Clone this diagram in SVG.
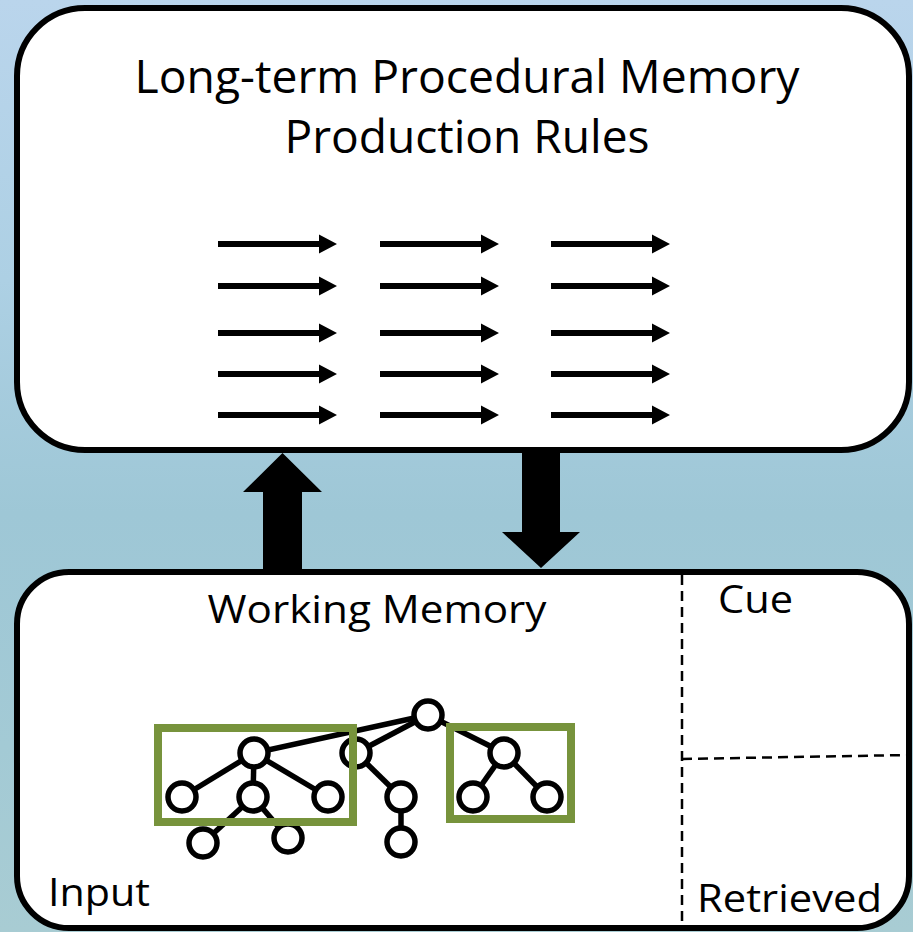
<svg xmlns="http://www.w3.org/2000/svg" width="913" height="932" viewBox="0 0 913 932">
<defs>
<linearGradient id="bg" x1="0" y1="0" x2="0" y2="1">
<stop offset="0" stop-color="#bad5ec"/>
<stop offset="0.3" stop-color="#add0e4"/>
<stop offset="0.55" stop-color="#9ec7d6"/>
<stop offset="0.8" stop-color="#a3cad5"/>
<stop offset="1" stop-color="#a8ccd3"/>
</linearGradient>
<path id="rule" d="M0,-3 H101 V-9.5 L119,0 L101,9.5 V3 H0 Z" fill="#000"/>
<style>
.box{fill:#fff;stroke:#000;stroke-width:6}
.t{font-family:"Open Sans","Noto Sans","DejaVu Sans",sans-serif;fill:#000}
.n{fill:#fff;stroke:#000;stroke-width:5.5}
.e{stroke:#000;stroke-width:5.5;fill:none}
.g{fill:none;stroke:#77933c;stroke-width:8}
.d{stroke:#000;stroke-width:2.5;stroke-dasharray:10 6;fill:none}
</style>
</defs>
<rect width="913" height="932" fill="url(#bg)"/>

<g id="procedural-memory">
<rect class="box" x="17" y="8" width="892" height="442" rx="68" ry="68"/>
<text class="t" x="467" y="93" font-size="45" text-anchor="middle" textLength="665" lengthAdjust="spacingAndGlyphs">Long-term Procedural Memory</text>
<text class="t" x="467" y="153" font-size="45" text-anchor="middle" textLength="365" lengthAdjust="spacingAndGlyphs">Production Rules</text>
<g id="rules">
<use href="#rule" x="218" y="244"/><use href="#rule" x="380" y="244"/><use href="#rule" x="551" y="244"/>
<use href="#rule" x="218" y="286"/><use href="#rule" x="380" y="286"/><use href="#rule" x="551" y="286"/>
<use href="#rule" x="218" y="333"/><use href="#rule" x="380" y="333"/><use href="#rule" x="551" y="333"/>
<use href="#rule" x="218" y="374"/><use href="#rule" x="380" y="374"/><use href="#rule" x="551" y="374"/>
<use href="#rule" x="218" y="415"/><use href="#rule" x="380" y="415"/><use href="#rule" x="551" y="415"/>
</g>
</g>

<g id="working-memory">
<rect class="box" x="17" y="572" width="892" height="356" rx="52" ry="52"/>
<line class="d" x1="682" y1="575" x2="682" y2="928"/>
<line class="d" x1="682" y1="759" x2="908" y2="755"/>
<text class="t" x="377" y="623" font-size="39" text-anchor="middle" textLength="339" lengthAdjust="spacingAndGlyphs">Working Memory</text>
<text class="t" x="718" y="613" font-size="39" textLength="75" lengthAdjust="spacingAndGlyphs">Cue</text>
<text class="t" x="48" y="906" font-size="39" textLength="102" lengthAdjust="spacingAndGlyphs">Input</text>
<text class="t" x="697" y="912" font-size="39" textLength="185" lengthAdjust="spacingAndGlyphs">Retrieved</text>
</g>

<g id="tree">
<g id="tree-edges">
<line class="e" x1="428" y1="715" x2="254" y2="753"/>
<line class="e" x1="428" y1="715" x2="356" y2="753"/>
<line class="e" x1="428" y1="715" x2="504" y2="753"/>
<line class="e" x1="254" y1="753" x2="182" y2="797"/>
<line class="e" x1="254" y1="753" x2="253" y2="797"/>
<line class="e" x1="254" y1="753" x2="328" y2="797"/>
<line class="e" x1="253" y1="797" x2="203" y2="843"/>
<line class="e" x1="253" y1="797" x2="288" y2="838"/>
<line class="e" x1="356" y1="753" x2="401" y2="797"/>
<line class="e" x1="401" y1="797" x2="401" y2="842"/>
<line class="e" x1="504" y1="753" x2="473" y2="797"/>
<line class="e" x1="504" y1="753" x2="547" y2="797"/>
</g>
<g id="tree-nodes">
<circle class="n" cx="428" cy="715" r="14"/>
<circle class="n" cx="254" cy="753" r="14"/>
<circle class="n" cx="356" cy="753" r="14"/>
<circle class="n" cx="504" cy="753" r="14"/>
<circle class="n" cx="182" cy="797" r="14"/>
<circle class="n" cx="253" cy="797" r="14"/>
<circle class="n" cx="328" cy="797" r="14"/>
<circle class="n" cx="401" cy="797" r="14"/>
<circle class="n" cx="473" cy="797" r="14"/>
<circle class="n" cx="547" cy="797" r="14"/>
<circle class="n" cx="203" cy="843" r="14"/>
<circle class="n" cx="288" cy="838" r="14"/>
<circle class="n" cx="401" cy="842" r="14"/>
</g>
<rect class="g" x="158" y="728" width="195" height="94"/>
<rect class="g" x="450" y="727" width="121" height="92"/>
</g>

<g id="connectors">
<path d="M263,570 V492 H243 L282.5,453 L322,492 H302 V570 Z" fill="#000"/>
<path d="M522,450 V532 H502 L541,568 L580,532 H560 V450 Z" fill="#000"/>
</g>
</svg>
